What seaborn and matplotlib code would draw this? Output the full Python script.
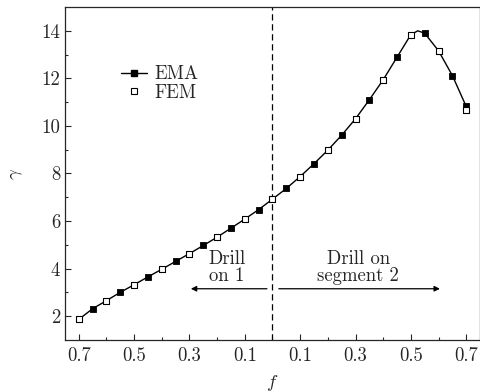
import matplotlib
matplotlib.use("Agg")
import matplotlib.pyplot as plt
from matplotlib.lines import Line2D
import seaborn as sns
import pandas as pd

# EMA curve (solid line) sampled values
f_line = [-0.70, -0.65, -0.60, -0.55, -0.50, -0.45, -0.40, -0.35, -0.30, -0.25,
          -0.20, -0.15, -0.10, -0.05, 0.00, 0.05, 0.10, 0.15, 0.20, 0.25,
          0.30, 0.35, 0.40, 0.45, 0.50, 0.525, 0.55, 0.60, 0.65, 0.70]
g_line = [1.86, 2.31, 2.65, 3.00, 3.32, 3.65, 3.97, 4.30, 4.63, 4.97,
          5.32, 5.70, 6.08, 6.48, 6.92, 7.37, 7.87, 8.41, 8.98, 9.61,
          10.30, 11.10, 11.94, 12.89, 13.84, 14.00, 13.90, 13.16, 12.12, 10.82]

# EMA markers (filled squares)
f_ema = [-0.65, -0.55, -0.45, -0.35, -0.25, -0.15, -0.05, 0.05, 0.15, 0.25,
         0.35, 0.45, 0.55, 0.65, 0.70]
g_ema = [2.31, 3.00, 3.65, 4.30, 4.97, 5.70, 6.48, 7.37, 8.41, 9.61,
         11.10, 12.89, 13.90, 12.12, 10.82]

# FEM markers (open squares)
f_fem = [-0.7, -0.6, -0.5, -0.4, -0.3, -0.2, -0.1, 0.0, 0.1, 0.2, 0.3, 0.4, 0.5, 0.6, 0.7]
g_fem = [1.86, 2.65, 3.32, 3.97, 4.63, 5.32, 6.08, 6.92, 7.87, 8.98, 10.30, 11.94, 13.84, 13.16, 10.68]

xticks = [-0.7, -0.5, -0.3, -0.1, 0.1, 0.3, 0.5, 0.7]
xticklabels = ["0.7", "0.5", "0.3", "0.1", "0.1", "0.3", "0.5", "0.7"]
yticks = [2, 4, 6, 8, 10, 12, 14]

sns.set_style("ticks")
plt.rcParams["font.family"] = ["cmr10", "DejaVu Serif"]
plt.rcParams["mathtext.fontset"] = "cm"
plt.rcParams["axes.unicode_minus"] = False

FS = 13.5

fig = plt.figure(figsize=(4.81, 3.92), dpi=100)
ax = fig.add_axes([0.135, 0.133, 0.863, 0.849])

df_line = pd.DataFrame({"f": f_line, "g": g_line})
df_ema = pd.DataFrame({"f": f_ema, "g": g_ema})
df_fem = pd.DataFrame({"f": f_fem, "g": g_fem})

sns.lineplot(data=df_line, x="f", y="g", ax=ax, color="black", lw=1.0, sort=False)
sns.scatterplot(data=df_ema, x="f", y="g", ax=ax, marker="s", s=16, color="black",
                edgecolor="black", linewidth=0.6, zorder=3)
sns.scatterplot(data=df_fem, x="f", y="g", ax=ax, marker="s", s=16, facecolor="white",
                edgecolor="black", linewidth=0.8, zorder=4)

ax.axvline(0.0, color="black", lw=0.9, ls=(0, (5, 3)), zorder=1)

ax.set_xlim(-0.75, 0.75)
ax.set_ylim(1.0, 15.0)
ax.set_xticks(xticks)
ax.set_xticklabels(xticklabels)
ax.set_xticks([-0.6, -0.4, -0.2, 0.0, 0.2, 0.4, 0.6], minor=True)
ax.set_yticks(yticks)
ax.set_yticklabels([str(v) for v in yticks])
ax.set_yticks([3, 5, 7, 9, 11, 13], minor=True)
ax.tick_params(which="both", direction="in", labelsize=FS, width=0.8)
ax.tick_params(which="major", length=4)
ax.tick_params(which="minor", length=2.5)
ax.tick_params(axis="x", which="major", pad=5)
for s in ax.spines.values():
    s.set_linewidth(0.9)
    s.set_visible(True)

ax.set_xlabel(r"$f$", fontsize=FS, labelpad=6)
ax.set_ylabel(r"$\gamma$", fontsize=FS, labelpad=12)

ax.text(-0.163, 4.03, "Drill\non 1", ha="center", va="center", fontsize=FS,
        linespacing=0.95, multialignment="left")
ax.text(0.31, 4.03, "Drill on\nsegment 2", ha="center", va="center", fontsize=FS,
        linespacing=0.95)
ax.annotate("", xy=(-0.295, 3.15), xytext=(-0.02, 3.15),
            arrowprops=dict(arrowstyle="-|>", color="black", lw=0.9,
                            mutation_scale=8, shrinkA=0, shrinkB=0))
ax.annotate("", xy=(0.605, 3.15), xytext=(0.023, 3.15),
            arrowprops=dict(arrowstyle="-|>", color="black", lw=0.9,
                            mutation_scale=8, shrinkA=0, shrinkB=0))

handles = [
    Line2D([], [], color="black", lw=1.0, marker="s", markersize=4,
           markerfacecolor="black", markeredgecolor="black"),
    Line2D([], [], color="none", marker="s", markersize=4,
           markerfacecolor="white", markeredgecolor="black", markeredgewidth=0.8),
]
ax.legend(handles, ["EMA", "FEM"], loc="upper left", bbox_to_anchor=(0.117, 0.848),
          frameon=False, fontsize=FS, handlelength=1.4, handletextpad=0.4,
          labelspacing=0.05, borderaxespad=0)

fig.savefig("out.png", dpi=100)
